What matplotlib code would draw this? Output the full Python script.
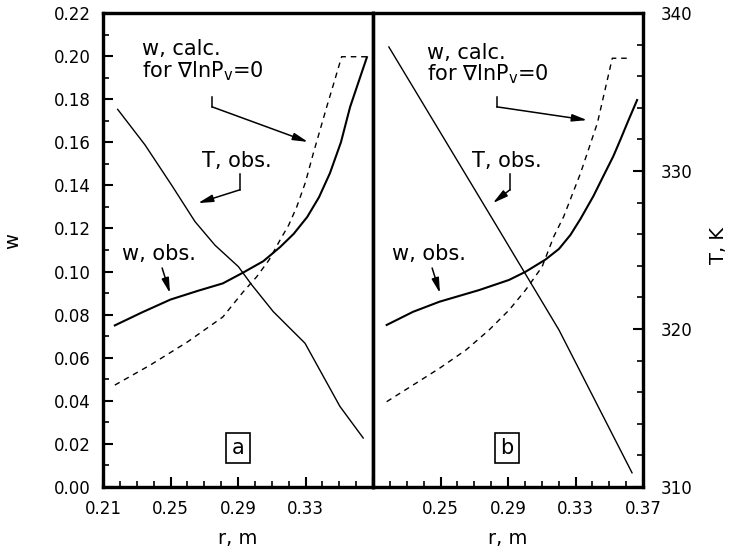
import numpy as np
import matplotlib.pyplot as plt
from matplotlib.ticker import MultipleLocator, FormatStrFormatter, FixedLocator, FixedFormatter

# values
# panel a
r_wobs_a = [0.217, 0.233, 0.250, 0.266, 0.281, 0.293, 0.305, 0.315, 0.323, 0.331,
            0.338, 0.3445, 0.351, 0.3564, 0.361, 0.3664]
w_obs_a = [0.075, 0.081, 0.087, 0.091, 0.0945, 0.0995, 0.1048, 0.1114, 0.1175, 0.1253,
           0.1345, 0.1457, 0.160, 0.1763, 0.187, 0.1995]
r_wcalc_a = [0.217, 0.238, 0.260, 0.281, 0.293, 0.3011, 0.3085, 0.3149, 0.320, 0.3248,
             0.330, 0.3346, 0.3426, 0.347, 0.3514, 0.3664]
w_calc_a = [0.0473, 0.0566, 0.0673, 0.0789, 0.0905, 0.0976, 0.1055, 0.1146, 0.1215, 0.130,
            0.1415, 0.1548, 0.1765, 0.188, 0.1997, 0.1997]
r_T_a = [0.2187, 0.2349, 0.2507, 0.2645, 0.2764, 0.2902, 0.2981, 0.3109, 0.3297, 0.3504, 0.3642]
T_a = [333.9, 331.65, 329.1, 326.8, 325.3, 323.95, 322.8, 321.1, 319.1, 315.1, 313.1]

# panel b
r_wobs_b = [0.2181, 0.2337, 0.2494, 0.2729, 0.2906, 0.3004, 0.3121, 0.3202, 0.327, 0.333,
            0.3406, 0.346, 0.3524, 0.3565, 0.361, 0.3665]
w_obs_b = [0.0752, 0.0813, 0.086, 0.0914, 0.0961, 0.0999, 0.1055, 0.1105, 0.117, 0.1245,
           0.135, 0.1435, 0.1535, 0.161, 0.1695, 0.1796]
r_wcalc_b = [0.2181, 0.2337, 0.2494, 0.2651, 0.2788, 0.2906, 0.3004, 0.3102, 0.3171, 0.323,
             0.333, 0.343, 0.3518, 0.3624]
w_calc_b = [0.0396, 0.0473, 0.0551, 0.0636, 0.0729, 0.0821, 0.0914, 0.1022, 0.1162, 0.1255,
            0.1457, 0.169, 0.199, 0.199]
r_T_b = [0.2194, 0.2847, 0.3202, 0.3635]
T_b = [337.85, 326.27, 319.94, 310.9]

x_ticks = [0.21, 0.25, 0.29, 0.33, 0.37]
left_xlabels = ['0.21', '0.25', '0.29', '0.33', '']
right_xlabels = ['', '0.25', '0.29', '0.33', '0.37']

plt.rcParams['font.family'] = 'DejaVu Sans'
fig = plt.figure(figsize=(7.33, 5.54), dpi=100)
W, H = 733, 554
axl = fig.add_axes([103 / W, 67 / H, 270 / W, 474 / H])
axr = fig.add_axes([373 / W, 67 / H, 270 / W, 474 / H])
tl = axl.twinx()
tr = axr.twinx()

for ax, t in [(axl, tl), (axr, tr)]:
    ax.set_xlim(0.21, 0.37)
    ax.set_ylim(0, 0.22)
    t.set_ylim(310, 340)
    for s in ax.spines.values():
        s.set_linewidth(2.3)
    for s in t.spines.values():
        s.set_linewidth(2.3)
    ax.xaxis.set_major_locator(FixedLocator(x_ticks))
    ax.xaxis.set_minor_locator(MultipleLocator(0.01))
    ax.tick_params(axis='x', which='major', direction='in', length=7, width=1.5,
                   labelsize=12, pad=9, top=False)
    ax.tick_params(axis='x', which='minor', direction='in', length=4, width=1.2, top=False)

# left panel axes
axl.xaxis.set_major_formatter(FixedFormatter(left_xlabels))
axl.yaxis.set_major_locator(MultipleLocator(0.02))
axl.yaxis.set_minor_locator(MultipleLocator(0.01))
axl.yaxis.set_major_formatter(FormatStrFormatter('%.2f'))
axl.tick_params(axis='y', which='major', direction='in', length=7, width=1.5, labelsize=12, pad=9)
axl.tick_params(axis='y', which='minor', direction='in', length=4, width=1.2)
tl.set_yticks([])
axl.set_ylabel('w', fontsize=14)
axl.yaxis.set_label_coords(-0.30, 0.52)
axl.set_xlabel('r, m', fontsize=14, labelpad=8)

# right panel axes
axr.xaxis.set_major_formatter(FixedFormatter(right_xlabels))
axr.set_yticks([])
tr.yaxis.set_major_locator(MultipleLocator(10))
tr.yaxis.set_minor_locator(MultipleLocator(2))
tr.tick_params(axis='y', which='major', direction='in', length=7, width=1.5, labelsize=12, pad=13)
tr.tick_params(axis='y', which='minor', direction='in', length=4, width=1.2)
tr.set_ylabel('T, K', fontsize=14)
tr.yaxis.set_label_coords(1.245, 0.51)
axr.set_xlabel('r, m', fontsize=14, labelpad=8)

# curves
axl.plot(r_wobs_a, w_obs_a, color='k', lw=1.5)
axl.plot(r_wcalc_a, w_calc_a, color='k', lw=1.0, dashes=(4, 3.5))
tl.plot(r_T_a, T_a, color='k', lw=1.0)
axr.plot(r_wobs_b, w_obs_b, color='k', lw=1.5)
axr.plot(r_wcalc_b, w_calc_b, color='k', lw=1.0, dashes=(4, 3.5))
tr.plot(r_T_b, T_b, color='k', lw=1.0)

arrow = dict(arrowstyle='-|>,head_length=0.9,head_width=0.22', color='k', lw=1.1,
             shrinkA=0, shrinkB=0)


def labels(ax, panel, calc_pos, calc_x, calc_tip, t_tip, t_x, box_x):
    tr_ = ax.transAxes
    cx, cy = calc_pos
    ax.text(cx, cy, 'w, calc.', transform=tr_, fontsize=15)
    ax.text(cx, cy - 0.046, r'for $\nabla$lnP$_\mathregular{v}$=0', transform=tr_, fontsize=15)
    ax.plot([calc_x, calc_x], [0.823, 0.802], color='k', lw=1.1, transform=tr_)
    ax.annotate('', xy=calc_tip, xytext=(calc_x, 0.802), xycoords=tr_, textcoords=tr_,
                arrowprops=arrow)
    ax.text(0.367, 0.676, 'T, obs.', transform=tr_, fontsize=15)
    ax.plot([t_x, t_x], [0.660, 0.627], color='k', lw=1.1, transform=tr_)
    ax.annotate('', xy=t_tip, xytext=(t_x, 0.627), xycoords=tr_, textcoords=tr_,
                arrowprops=arrow)
    ax.text(0.07, 0.478, 'w, obs.', transform=tr_, fontsize=15)
    ax.annotate('', xy=(0.248, 0.409), xytext=(0.219, 0.462), xycoords=tr_, textcoords=tr_,
                arrowprops=arrow)
    ax.text(box_x, 0.082, panel, transform=tr_, fontsize=15, ha='center', va='center',
            bbox=dict(boxstyle='square,pad=0.25', fc='white', ec='k', lw=1.2))


labels(axl, 'a', (0.144, 0.911), 0.404, (0.759, 0.728), (0.352, 0.599), 0.507, 0.5)
labels(axr, 'b', (0.2, 0.903), 0.459, (0.793, 0.774), (0.444, 0.599), 0.507, 0.496)

fig.savefig('out.png', dpi=100)
